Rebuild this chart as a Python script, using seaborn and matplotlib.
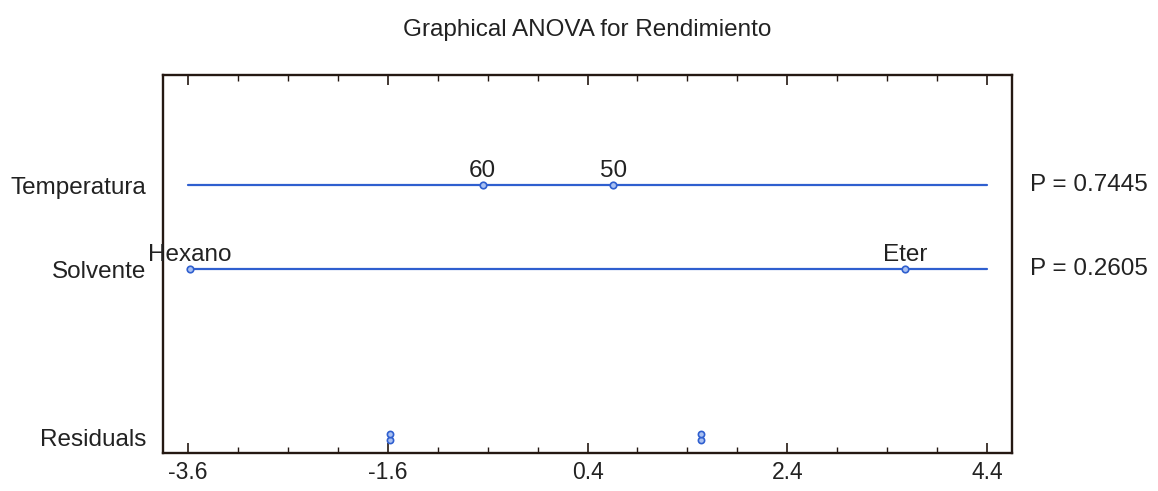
import pandas as pd
import matplotlib
matplotlib.use("Agg")
import matplotlib.pyplot as plt
import seaborn as sns
from matplotlib.ticker import FixedLocator, MultipleLocator
from matplotlib.transforms import blended_transform_factory

""" DATA """
factors = ['Temperatura', 'Solvente', 'Residuals']
row_y = [3, 2, 0]          # vertical slot of each row
temp_levels = ['60', '50']
temp_effects = [-0.65, 0.66]
solv_levels = ['Hexano', 'Eter']
solv_effects = [-3.58, 3.58]
p_values = [0.7445, 0.2605]
residuals = [-1.58, -1.58, 1.54, 1.54]
x_ticks = [-3.6, -1.6, 0.4, 2.4, 4.4]

""" STYLE """
sns.set_theme(style="white")
plt.rcParams['font.family'] = ['Liberation Sans', 'DejaVu Sans']
blue = '#2f5fcf'
face = '#a9c0f2'
ink = '#241812'
txt = '#222222'
fs = 17.5

effects = pd.DataFrame({
    'effect': temp_effects + solv_effects,
    'level': temp_levels + solv_levels,
    'row': [row_y[0]] * len(temp_effects) + [row_y[1]] * len(solv_effects),
})

# residuals: repeated values are stacked on top of each other
seen = {}
res_y = []
for r in residuals:
    k = seen.get(r, 0)
    seen[r] = k + 1
    res_y.append(row_y[2] - 0.04 + 0.08 * k)
res = pd.DataFrame({'effect': residuals, 'row': res_y})

fig = plt.figure(figsize=(11.58, 4.91), dpi=100)
ax = fig.add_axes([0.1408, 0.0774, 0.7331, 0.7699])

# horizontal row lines over the tick range
for y in row_y[:2]:
    line = pd.DataFrame({'x': [x_ticks[0], x_ticks[-1]], 'y': [y, y]})
    sns.lineplot(data=line, x='x', y='y', ax=ax, color=blue, linewidth=1.6)

sns.scatterplot(data=effects, x='effect', y='row', ax=ax, s=22, color=face,
                edgecolor=blue, linewidth=1.2, zorder=3)
sns.scatterplot(data=res, x='effect', y='row', ax=ax, s=20, color=face,
                edgecolor=blue, linewidth=1.2, zorder=3)

for _, r in effects.iterrows():
    ax.annotate(r['level'], (r['effect'], r['row']), xytext=(0, 2),
                textcoords='offset points', ha='center', va='bottom',
                fontsize=fs, color=txt)

trans = blended_transform_factory(ax.transAxes, ax.transData)
for y, p in zip(row_y[:2], p_values):
    ax.text(1.021, y, f'P = {p:.4f}', transform=trans, ha='left', va='center',
            fontsize=fs, color=txt)

ax.set_xlim(-3.85, 4.65)
ax.set_ylim(-0.19, 4.31)
ax.xaxis.set_major_locator(FixedLocator(x_ticks))
ax.xaxis.set_minor_locator(MultipleLocator(0.5, offset=0.4))
ax.set_xticklabels([f'{t:g}' for t in x_ticks])
ax.set_yticks(row_y)
ax.set_yticklabels(factors)
ax.tick_params(axis='x', which='both', direction='in', top=True, bottom=True,
               color=ink, labelsize=16.5, pad=6, labelcolor=txt)
ax.tick_params(axis='x', which='major', length=7, width=1.2)
ax.tick_params(axis='x', which='minor', length=4, width=1.0)
ax.tick_params(axis='y', length=0, labelsize=fs, pad=12, labelcolor=txt)
for s in ax.spines.values():
    s.set_color(ink)
    s.set_linewidth(1.7)
ax.set_xlabel('')
ax.set_ylabel('')
ax.set_title('Graphical ANOVA for Rendimiento', fontsize=fs, pad=28,
             color=txt)

fig.savefig('out.png', dpi=100)
